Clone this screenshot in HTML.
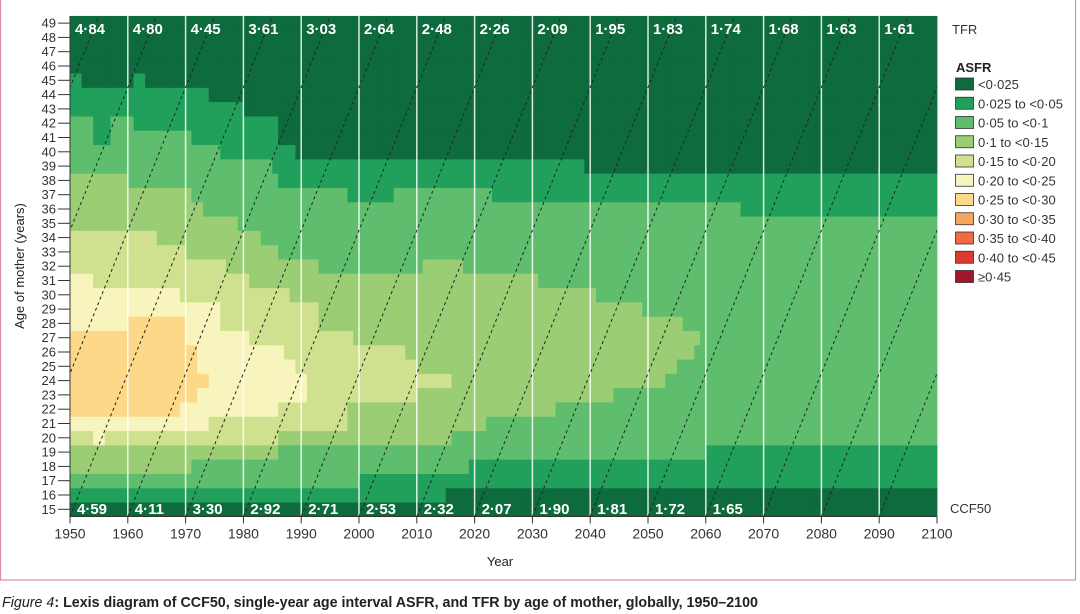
<!DOCTYPE html>
<html><head><meta charset="utf-8"><style>
html,body{margin:0;padding:0;background:#fff;}
svg{display:block;font-family:"Liberation Sans",sans-serif;}
</style></head><body>
<svg id="chart" width="1080" height="614" viewBox="0 0 1080 614" xmlns="http://www.w3.org/2000/svg">
<rect x="0.5" y="-2" width="1075" height="582" fill="none" stroke="#d98ea3" stroke-width="1.2"/>
<g id="cells"></g>
<g id="grid"></g>
<g id="cohorts"></g>
<g id="labels"></g>
<g id="axes"></g>
<text transform="translate(24,266) rotate(-90)" text-anchor="middle" font-size="13" fill="#222">Age of mother (years)</text>
<text x="500" y="566" text-anchor="middle" font-size="13" fill="#222">Year</text>
<text x="952" y="34" font-size="13" fill="#333">TFR</text>
<text x="950" y="513" font-size="13" fill="#333">CCF50</text>
<g id="legend">
<text x="956" y="72" font-size="13" font-weight="bold" fill="#222">ASFR</text>
</g>
<text x="2" y="607" font-size="15" font-weight="bold" fill="#222" textLength="756" lengthAdjust="spacingAndGlyphs"><tspan font-style="italic" font-weight="normal">Figure 4</tspan>: Lexis diagram of CCF50, single-year age interval ASFR, and TFR by age of mother, globally, 1950–2100</text>
</svg>
<script>
const NS="http://www.w3.org/2000/svg";
const startYear=1950, endYear=2100;
const ages=[15,16,17,18,19,20,21,22,23,24,25,26,27,28,29,30,31,32,33,34,35,36,37,38,39,40,41,42,43,44,45,46,47,48,49];
// ASFR runs per age: [start year, ASFR value] — value holds until next run
const asfrRuns=[
[[1950,0.015]],
[[1950,0.04],[2015,0.015]],
[[1950,0.075],[2000,0.04]],
[[1950,0.125],[1971,0.075],[2019,0.04]],
[[1950,0.125],[1986,0.075],[2060,0.04]],
[[1950,0.175],[1954,0.225],[1956,0.175],[1986,0.125],[2016,0.075]],
[[1950,0.225],[1974,0.175],[1998,0.125],[2022,0.075]],
[[1950,0.27],[1969,0.225],[1986,0.175],[1998,0.125],[2034,0.075]],
[[1950,0.27],[1972,0.225],[1991,0.175],[2010,0.125],[2044,0.075]],
[[1950,0.27],[1974,0.225],[1991,0.175],[2016,0.125],[2053,0.075]],
[[1950,0.27],[1972,0.225],[1989,0.175],[2010,0.125],[2055,0.075]],
[[1950,0.27],[1972,0.225],[1987,0.175],[2008,0.125],[2058,0.075]],
[[1950,0.27],[1970,0.225],[1981,0.175],[1999,0.125],[2059,0.075]],
[[1950,0.225],[1960,0.27],[1970,0.225],[1976,0.175],[1993,0.125],[2056,0.075]],
[[1950,0.225],[1976,0.175],[1993,0.125],[2049,0.075]],
[[1950,0.225],[1969,0.175],[1988,0.125],[2041,0.075]],
[[1950,0.225],[1954,0.175],[1981,0.125],[2031,0.075]],
[[1950,0.175],[1977,0.125],[1993,0.075],[2011,0.125],[2018,0.075]],
[[1950,0.175],[1970,0.125],[1986,0.075]],
[[1950,0.175],[1965,0.125],[1983,0.075]],
[[1950,0.125],[1979,0.075]],
[[1950,0.125],[1973,0.075],[2066,0.04]],
[[1950,0.125],[1971,0.075],[1998,0.04],[2006,0.075],[2023,0.04]],
[[1950,0.125],[1960,0.075],[1986,0.04]],
[[1950,0.075],[1985,0.04],[2039,0.015]],
[[1950,0.075],[1976,0.04],[1989,0.015]],
[[1950,0.075],[1954,0.04],[1957,0.075],[1971,0.04],[1986,0.015]],
[[1950,0.075],[1954,0.04],[1957,0.075],[1961,0.04],[1986,0.015]],
[[1950,0.04],[1980,0.015]],
[[1950,0.04],[1974,0.015]],
[[1950,0.04],[1952,0.015],[1961,0.04],[1963,0.015]],
[[1950,0.015]],
[[1950,0.015]],
[[1950,0.015]],
[[1950,0.015]]
];
const decades=[1950,1960,1970,1980,1990,2000,2010,2020,2030,2040,2050,2060,2070,2080,2090];
const tfrValues=["4·84","4·80","4·45","3·61","3·03","2·64","2·48","2·26","2·09","1·95","1·83","1·74","1·68","1·63","1·61"];
const ccf50Values=["4·59","4·11","3·30","2·92","2·71","2·53","2·32","2·07","1·90","1·81","1·72","1·65"];
const xTicks=[1950,1960,1970,1980,1990,2000,2010,2020,2030,2040,2050,2060,2070,2080,2090,2100];
const thresholds=[0.025,0.05,0.1,0.15,0.2,0.25,0.3,0.35,0.4,0.45];
const palette=["#0e6b3e","#20a05a","#5fbd6e","#9bcd74","#cfe18e","#f7f5bd","#fcd888","#f8a65c","#f06a44","#dc3a2e","#a3142e"];
const legendLabels=["<0·025","0·025 to <0·05","0·05 to <0·1","0·1 to <0·15","0·15 to <0·20","0·20 to <0·25","0·25 to <0·30","0·30 to <0·35","0·35 to <0·40","0·40 to <0·45","≥0·45"];

const X0=70, X1=937, rowH=14.3, ageTop15=502.15;
function xS(y){return X0+(y-startYear)*(X1-X0)/(endYear-startYear);}
function yTop(a){return ageTop15-(a-15)*rowH;}
function yMid(a){return yTop(a)+rowH/2;}
function colorOf(v){let i=0;while(i<thresholds.length&&v>=thresholds[i])i++;return palette[i];}
function mk(tag,attrs,parent){const e=document.createElementNS(NS,tag);for(const k in attrs)e.setAttribute(k,attrs[k]);parent.appendChild(e);return e;}

const cells=document.getElementById('cells');
ages.forEach((age,ai)=>{
  const runs=asfrRuns[ai];
  for(let yr=startYear;yr<endYear;yr++){
    let v=runs[0][1];
    for(const r of runs){if(yr>=r[0])v=r[1];}
    const r=mk('rect',{x:xS(yr).toFixed(2),y:yTop(age).toFixed(2),width:((X1-X0)/150+0.4).toFixed(2),height:(rowH+0.4).toFixed(2),fill:colorOf(v)},cells);
    
    
  }
});
const plotTop=yTop(49), plotBot=yTop(15)+rowH;
const grid=document.getElementById('grid');
decades.slice(1).forEach(d=>{
  const l=mk('line',{x1:xS(d),x2:xS(d),y1:plotTop,y2:plotBot,stroke:"#ffffff","stroke-opacity":"0.85","stroke-width":"1.5"},grid);
  
  
});
const coh=document.getElementById('cohorts');
const clip=mk('clipPath',{id:'pc'},coh);
mk('rect',{x:X0,y:plotTop,width:X1-X0,height:plotBot-plotTop},clip);
for(let y0=1920;y0<=2090;y0+=10){
  const l=mk('line',{x1:xS(y0),y1:plotBot,x2:xS(y0+35),y2:plotTop,stroke:"#222","stroke-width":"1","stroke-dasharray":"3,3","clip-path":"url(#pc)"},coh);
  
  
}
const lab=document.getElementById('labels');
tfrValues.forEach((t,i)=>{
  const e=mk('text',{x:xS(decades[i])+5,y:34,"font-size":"15","font-weight":"bold",fill:"#fff"},lab);
  e.textContent=t;
  
  
});
ccf50Values.forEach((t,i)=>{
  const e=mk('text',{x:xS(decades[i])+7,y:514,"font-size":"15","font-weight":"bold",fill:"#fff"},lab);
  e.textContent=t;
  
  
});
const ax=document.getElementById('axes');
let e=mk('line',{x1:X0,x2:X0,y1:plotTop,y2:plotBot,stroke:"#333","stroke-width":"1"},ax);

e=mk('line',{x1:X0,x2:X1,y1:plotBot,y2:plotBot,stroke:"#333","stroke-width":"1.2"},ax);

ages.forEach(a=>{
  const t=mk('line',{x1:X0-12,x2:X0,y1:yMid(a),y2:yMid(a),stroke:"#333","stroke-width":"1"},ax);
  
  
  const tx=mk('text',{x:X0-14,y:yMid(a)+4.5,"text-anchor":"end","font-size":"13",fill:"#333"},ax);
  tx.textContent=a;
  
  
});
xTicks.forEach(y=>{
  const t=mk('line',{x1:xS(y),x2:xS(y),y1:plotBot,y2:plotBot+7,stroke:"#333","stroke-width":"1"},ax);
  
  
  const tx=mk('text',{x:xS(y),y:plotBot+22,"text-anchor":"middle","font-size":"14",fill:"#333"},ax);
  tx.textContent=y;
  
  
});
const lg=document.getElementById('legend');
legendLabels.forEach((t,i)=>{
  const y=78+i*19.25;
  const r=mk('rect',{x:955.5,y:y,width:18,height:12,fill:palette[i],stroke:"#333","stroke-width":"0.8"},lg);
  
  
  const tx=mk('text',{x:978,y:y+11,"font-size":"13",fill:"#333"},lg);
  tx.textContent=t;
  
  
});
</script>
</body></html>
